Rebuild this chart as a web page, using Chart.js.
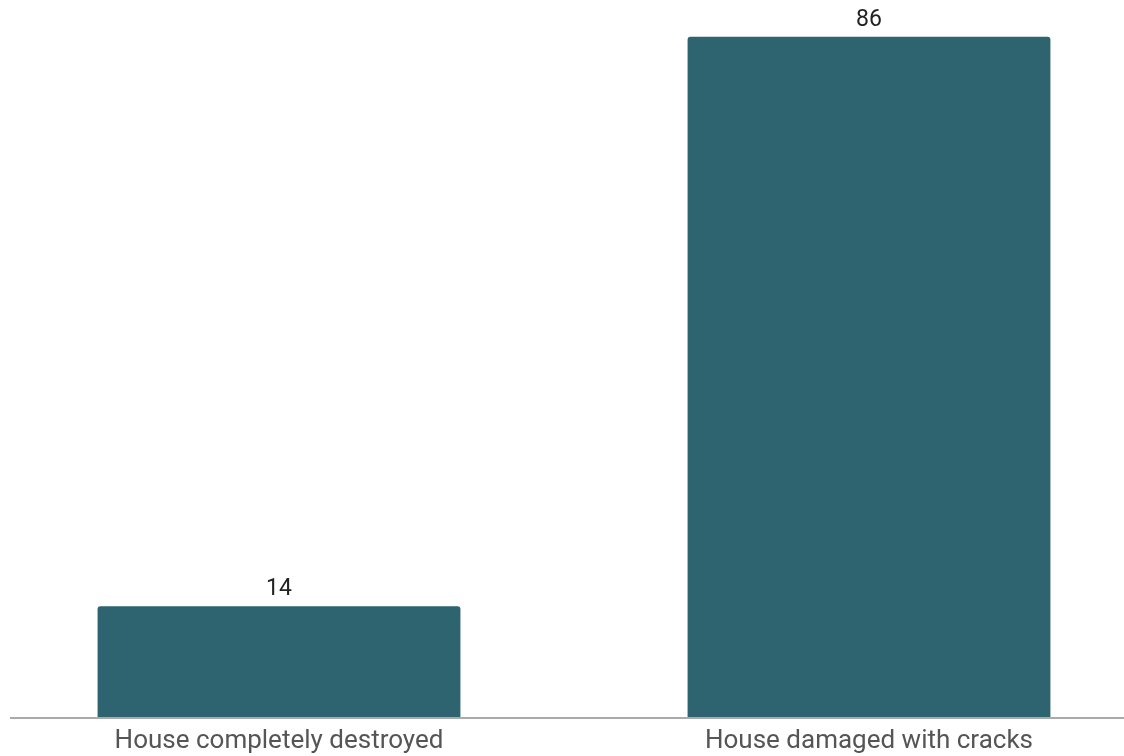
<!DOCTYPE html>
<html>
<head>
<meta charset="utf-8">
<script src="https://cdn.jsdelivr.net/npm/chart.js@4.4.1/dist/chart.umd.min.js"></script>
<style>
    html, body { margin: 0; padding: 0; background: #fff; overflow: hidden; }
    #wrap { position: absolute; left: -16px; top: 0; width: 1180px; height: 756px; }
</style>
</head>
<body>
<div id="wrap"><canvas id="graficoDanos"></canvas></div>
<script>
const categorias = ['House completely destroyed', 'House damaged with cracks'];
const quantidades = [14, 86];

// rótulos de valor acima de cada barra
const rotulosValor = {
    id: 'rotulosValor',
    afterDatasetsDraw(chart) {
        const ctx = chart.ctx;
        const meta = chart.getDatasetMeta(0);
        ctx.save();
        ctx.font = '23px Roboto';
        ctx.fillStyle = '#222222';
        ctx.textAlign = 'center';
        ctx.textBaseline = 'bottom';
        meta.data.forEach((bar, i) => {
            ctx.fillText(String(quantidades[i]), bar.x, bar.y - 5);
        });
        ctx.restore();
    }
};

// linha de base do eixo x
const linhaBase = {
    id: 'linhaBase',
    afterDraw(chart) {
        const ctx = chart.ctx;
        const y = chart.scales.x.top + 1;
        ctx.save();
        ctx.strokeStyle = '#aaaaaa';
        ctx.lineWidth = 2;
        ctx.beginPath();
        ctx.moveTo(26, y);
        ctx.lineTo(chart.width, y);
        ctx.stroke();
        ctx.restore();
    }
};

const ctxDanos = document.getElementById('graficoDanos').getContext('2d');
const graficoDanos = new Chart(ctxDanos, {
    type: 'bar',
    data: {
        labels: categorias,
        datasets: [{
            label: 'Houses',
            data: quantidades,
            backgroundColor: '#2d6470',
            borderRadius: { topLeft: 3, topRight: 3 },
            borderSkipped: 'bottom',
            categoryPercentage: 1,
            barPercentage: 0.615
        }]
    },
    options: {
        responsive: true,
        maintainAspectRatio: false,
        animation: false,
        layout: { padding: { top: 5, left: 0, right: 0, bottom: 0 } },
        scales: {
            x: {
                grid: { display: false, drawTicks: false },
                border: { display: false },
                ticks: {
                    color: '#555555',
                    font: { family: 'Roboto', size: 26 },
                    padding: 9,
                    maxRotation: 0
                },
                afterFit(scale) { scale.height = 39; }
            },
            y: {
                display: false,
                min: 0,
                max: 90
            }
        },
        plugins: {
            legend: { display: false },
            tooltip: { enabled: false }
        }
    },
    plugins: [rotulosValor, linhaBase]
});
</script>
</body>
</html>
